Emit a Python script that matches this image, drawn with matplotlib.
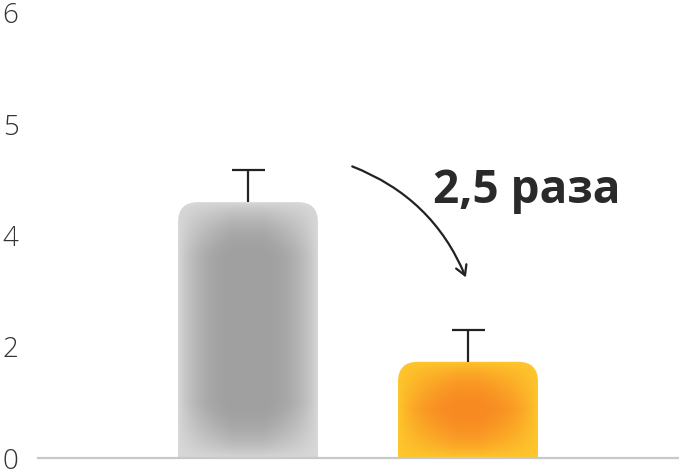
import numpy as np
import matplotlib
matplotlib.use("Agg")
import matplotlib.pyplot as plt
from matplotlib.patches import FancyBboxPatch, FancyArrowPatch
from matplotlib.colors import to_rgb

# данные
tick_labels = ["0", "2", "4", "5", "6"]
tick_values = [0, 2, 4, 5, 6]
values = [4.30, 1.73]
errors = [0.29, 0.57]
edge_colors = ["#d8d8d8", "#fec72c"]
center_colors = ["#a0a0a0", "#f88a22"]
label = "2,5 раза"

# ось Y неравномерная: метки 0,2,4,5,6 стоят на равном расстоянии
tick_pos = np.arange(len(tick_values))
def to_pos(v):
    return np.interp(v, tick_values, tick_pos)

plt.rcParams['font.family'] = ['Open Sans', 'DejaVu Sans']

fig = plt.figure(figsize=(6.79, 4.69), dpi=100)
W, H = 679, 469
ax = fig.add_axes([38 / W, (H - 458) / H, (679 - 38) / W, (458 - 13) / H])

px_x = 220.0      # пикселей на единицу x
px_y = 445.0 / 4  # пикселей на единицу y
bw = 140 / px_x
x = np.arange(len(values))
ax.set_xlim(-210 / px_x, -210 / px_x + 641 / px_x)
ax.set_ylim(0, 4)

def smooth(t):
    t = np.clip(t, 0, 1)
    return t * t * (3 - 2 * t)

for i, v in enumerate(values):
    top = to_pos(v)
    r = 20 / px_x
    patch = FancyBboxPatch((x[i] - bw / 2, -0.5), bw, top + 0.5,
                           boxstyle="round,pad=0,rounding_size=%f" % r,
                           mutation_aspect=px_x / px_y,
                           facecolor="none", edgecolor="none")
    ax.add_patch(patch)
    # градиент
    wpx = 140
    hpx = int(round(top * px_y))
    xx = np.arange(wpx) + 0.5
    yy = np.arange(hpx) + 0.5
    fx = 55 if i == 0 else 60
    fy = 55 if i == 0 else 48
    dx = np.minimum(xx, wpx - xx)
    dy = np.minimum(yy, hpx - yy)
    sx = np.clip(dx / fx, 0, 1)
    sy = np.clip(dy / fy, 0, 1)
    t = smooth(np.sqrt(sx[None, :] * sy[:, None]))
    c0 = np.array(to_rgb(edge_colors[i]))
    c1 = np.array(to_rgb(center_colors[i]))
    img = c0 + (c1 - c0) * t[..., None]
    im = ax.imshow(img, extent=(x[i] - bw / 2, x[i] + bw / 2, 0, top),
                   origin="upper", aspect="auto", interpolation="bilinear", zorder=2)
    im.set_clip_path(patch)

# планки погрешностей (только вверх)
tops = to_pos(np.array(values))
err_tops = to_pos(np.array(values) + np.array(errors))
ax.vlines(x, tops, err_tops, color="#222222", lw=1.6, zorder=3)
ax.hlines(err_tops, x - 16.5 / px_x, x + 16.5 / px_x, color="#222222", lw=1.6, zorder=3)

# стрелка и подпись
arrow = FancyArrowPatch((0.462, 2.63), (0.995, 1.6),
                        connectionstyle="arc3,rad=-0.22",
                        arrowstyle="->,head_length=7,head_width=4",
                        color="#222222", lw=1.6, zorder=4)
ax.add_patch(arrow)
ax.text(0.84, 2.4, label, fontsize=33, fontweight="bold", color="#2a2a2a",
        ha="left", va="center")

ax.set_yticks(tick_pos)
ax.set_yticklabels(tick_labels)
ax.set_xticks([])
ax.tick_params(axis="y", length=0, pad=14, labelsize=20, labelcolor="#333333")
for lab in ax.get_yticklabels():
    lab.set_fontweight("light")
for s in ["top", "right", "left"]:
    ax.spines[s].set_visible(False)
ax.spines["bottom"].set_color("#c8c8c8")
ax.spines["bottom"].set_linewidth(1.6)
ax.spines["bottom"].set_zorder(5)

fig.savefig("out.png", dpi=100)
